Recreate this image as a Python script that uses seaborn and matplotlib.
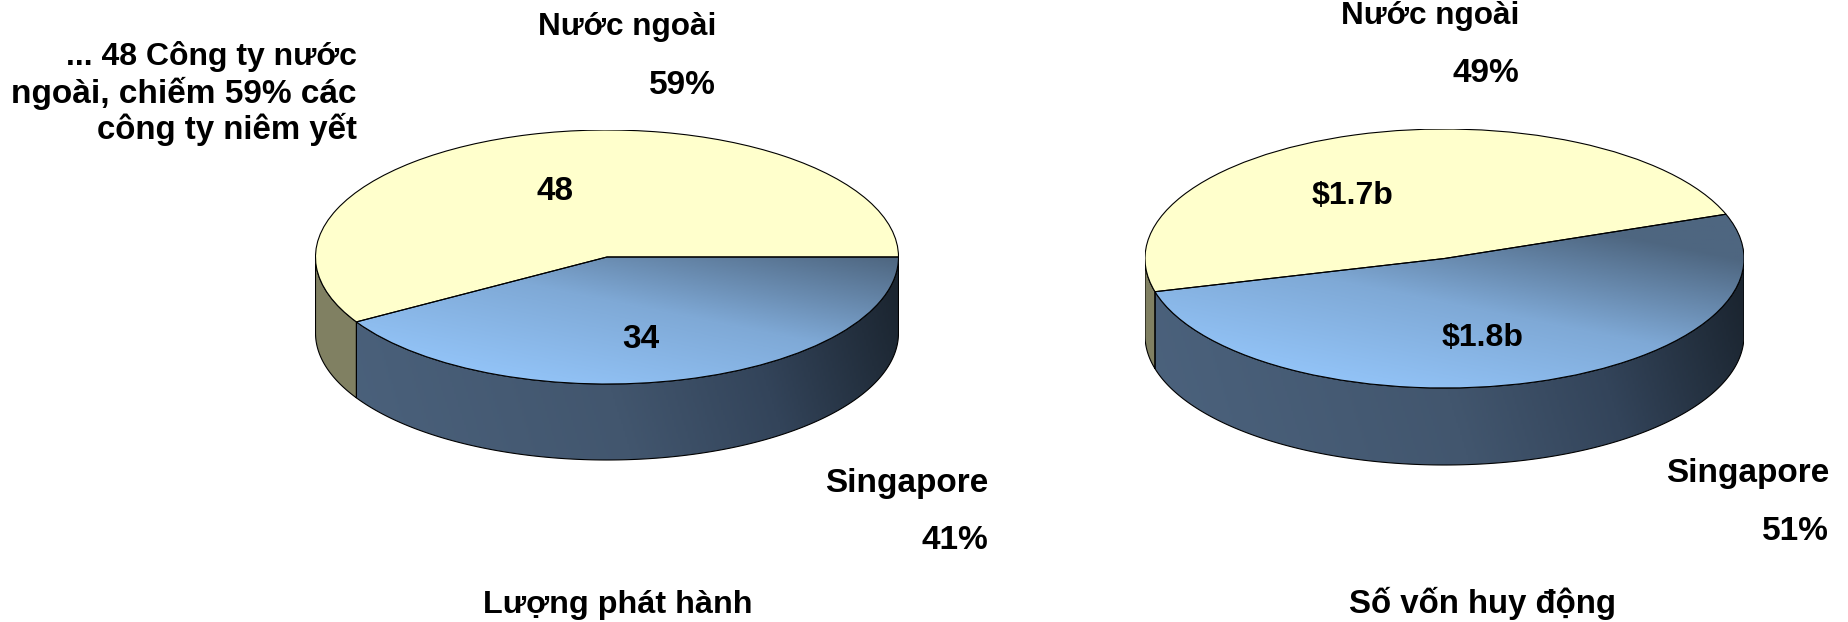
import numpy as np
import matplotlib
matplotlib.use("Agg")
import matplotlib.pyplot as plt
from matplotlib.colors import LinearSegmentedColormap
from matplotlib.patches import PathPatch
import seaborn as sns

sns.set_theme(style="white")
plt.rcParams['font.family'] = ['Liberation Sans', 'DejaVu Sans']

W, H = 1849, 622

# data
issue_categories = ["Nước ngoài", "Singapore"]
issue_counts = [48, 34]
issue_inner = ["48", "34"]
issue_pct = ["59%", "41%"]
issue_title = "Lượng phát hành"

fund_categories = ["Nước ngoài", "Singapore"]
fund_values = [1.7, 1.8]
fund_inner = ["$1.7b", "$1.8b"]
fund_pct = ["49%", "51%"]
fund_title = "Số vốn huy động"

note_lines = ["... 48 Công ty nước", "ngoài, chiếm 59% các", "công ty niêm yết"]

YELLOW = "#FFFFCC"
YELLOW_WALL = "#808062"
top_cmap = LinearSegmentedColormap.from_list("top", ["#93C4F8", "#7FA9D6", "#4E6680"])
wall_cmap = LinearSegmentedColormap.from_list(
    "wall", [(0, "#4C637E"), (0.5, "#42566E"), (0.75, "#33445A"), (1, "#1B2530")])

fig = plt.figure(figsize=(W / 100, H / 100), dpi=100, facecolor="white")


def px(x, y):
    return x / W, 1 - y / H


def label(x, y, s, ha="right", size=24):
    fx, fy = px(x, y)
    fig.text(fx, fy, s, ha=ha, va="baseline", fontsize=size, fontweight="bold", color="black")


def pie3d(values, start, cx, cy, rx, ry, depth):
    ax = fig.add_axes([(cx - rx) / W, 1 - (cy + ry + depth + 2) / H, 2 * rx / W, (2 * ry + depth + 2) / H])
    wedges, _ = ax.pie(values, startangle=start, colors=[YELLOW, "#6F93BB"], radius=1,
                       wedgeprops=dict(edgecolor="none"))
    ax.set_aspect("auto")
    d = depth / ry
    ax.set_xlim(-1, 1)
    ax.set_ylim(-1 - d - 2 / ry, 1)
    ax.axis("off")

    yy, xx = np.mgrid[-1 - d:1:200j, -1:1:300j]
    wall_t = np.clip((xx + 1) / 2 * 0.92 + (yy + 1 + d) / (2 + d) * 0.16, 0, 1)

    # side walls, visible on the front half of the ellipse
    for i, w in enumerate(wedges):
        a0, a1 = w.theta1 % 360, w.theta2 % 360
        if a1 <= a0:
            a1 += 360
        for lo, hi in [(180, 360), (540, 720)]:
            s, e = max(a0, lo), min(a1, hi)
            if e <= s:
                continue
            th = np.radians(np.linspace(s, e, 200))
            xs = np.r_[np.cos(th), np.cos(th[::-1])]
            ys = np.r_[np.sin(th), np.sin(th[::-1]) - d]
            poly = ax.fill(xs, ys, facecolor=YELLOW_WALL if i == 0 else "none",
                           edgecolor="black", linewidth=0.8, zorder=1)[0]
            if i == 1:
                im = ax.imshow(wall_t, extent=(-1, 1, -1 - d, 1), aspect="auto", cmap=wall_cmap,
                               vmin=0, vmax=1, zorder=0.9, origin="lower")
                im.set_clip_path(poly)

    # top faces
    yy, xx = np.mgrid[-1:1:200j, -1:1:300j]
    t = np.clip(((xx + 0.3) * 0.35 + (yy + 1.0) * 0.75) / 1.2, 0, 1)
    for i, w in enumerate(wedges):
        w.set_zorder(2)
        if i == 1:
            im = ax.imshow(t, extent=(-1, 1, -1, 1), aspect="auto", cmap=top_cmap, vmin=0, vmax=1,
                           origin="lower", zorder=2.1)
            im.set_clip_path(w)
        ax.add_patch(PathPatch(w.get_path(), transform=ax.transData, fill=False,
                               edgecolor="black", linewidth=0.8, zorder=3))
    ax.set_xlim(-1, 1)
    ax.set_ylim(-1 - d - 2 / ry, 1)
    return ax


pie3d(issue_counts, 0, 607, 257, 291.5, 127, 76)
pie3d(fund_values, 20, 1444.5, 258.5, 299.5, 129.5, 77)

label(716, 35, issue_categories[0], size=22.7)
label(716, 94, issue_pct[0])
label(988, 492, issue_categories[1])
label(988, 549, issue_pct[1])
label(618, 613, issue_title, ha="center", size=23.3)
label(1519, 24, fund_categories[0], size=22.7)
label(1519, 82, fund_pct[0])
label(1829, 482, fund_categories[1])
label(1829, 540, fund_pct[1])
label(1483, 613, fund_title, ha="center", size=23.8)
sizes = [23, 24, 23.8]
for yb, s, fs in zip([65, 103, 139], note_lines, sizes):
    label(357, yb, s, size=fs)

label(555, 200, issue_inner[0], ha="center")
label(641, 348, issue_inner[1], ha="center")
label(1353, 204, fund_inner[0], ha="center", size=23)
label(1483, 346, fund_inner[1], ha="center", size=23)

fig.savefig("out.png", dpi=100)
